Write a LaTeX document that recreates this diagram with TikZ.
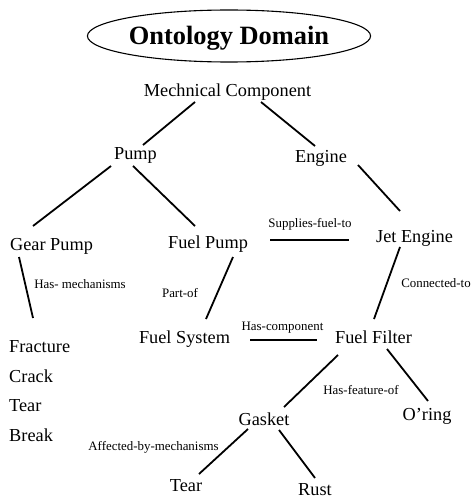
\documentclass[tikz,border=0pt]{standalone}
\usepackage{fontspec}
\setmainfont{Liberation Serif}
\usetikzlibrary{calc,shapes.geometric}
\begin{document}
\begin{tikzpicture}[x=1pt,y=-1pt,
  concept/.style={anchor=base,inner sep=0pt,font=\fontsize{18.3}{22}\selectfont},
  relation/.style={anchor=base,inner sep=0pt,font=\fontsize{12.9}{15}\selectfont},
  link/.style={line width=1.8pt}]
\useasboundingbox (0,0) rectangle (474,500);

% title
\node[ellipse,draw,line width=1.1pt,minimum width=259pt,minimum height=52pt,inner sep=0pt,
      text height=18pt,text depth=0pt,font=\fontsize{26.4}{30}\selectfont\bfseries]
      (title) at (229,36) {Ontology Domain};

% concepts
\node[concept] (mc)     at (227.5,96)  {Mechnical Component};
\node[concept] (pump)   at (135.5,159.5) {Pump};
\node[concept] (engine) at (321,162)   {Engine};
\node[concept] (gear)   at (51.5,250)  {Gear Pump};
\node[concept] (fpump)  at (208,248)   {Fuel Pump};
\node[concept] (jet)    at (414.5,242) {Jet Engine};
\node[concept] (fsys)   at (184.5,343) {Fuel System};
\node[concept] (filter) at (373.5,343) {Fuel Filter};
\node[concept,anchor=base west] (fracture) at (9,352) {Fracture};
\node[concept,anchor=base west] (crack)    at (9,382) {Crack};
\node[concept,anchor=base west] (tear)     at (9,411) {Tear};
\node[concept,anchor=base west] (break)    at (9,441) {Break};
\node[concept] (oring)  at (427,420)   {O’ring};
\node[concept] (gasket) at (264,425)   {Gasket};
\node[concept] (gtear)  at (186,491)   {Tear};
\node[concept] (rust)   at (315,495.5) {Rust};

% relation labels
\node[relation] (supplies) at (310,227.5)   {Supplies-fuel-to};
\node[relation] (hasmech)  at (80,288.5)    {Has- mechanisms};
\node[relation] (partof)   at (180,297.5)   {Part-of};
\node[relation] (connto)   at (436,287.5)   {Connected-to};
\node[relation] (hascomp)  at (282.5,330.5) {Has-component};
\node[relation] (hasfeat)  at (361,394.5)   {Has-feature-of};
\node[relation] (affected) at (153.5,450.5) {Affected-by-mechanisms};

% connectors
\draw[link] ($(mc.base)+(-32.5,6)$)     -- ($(pump.base)+(7.5,-14.5)$);
\draw[link] ($(mc.base)+(33.5,6)$)      -- ($(engine.base)+(-6,-16)$);
\draw[link] ($(pump.base)+(-24.5,6.5)$) -- ($(gear.base)+(-18.5,-24)$);
\draw[link] ($(pump.base)+(-2.5,6.5)$)  -- ($(fpump.base)+(-13,-22)$);
\draw[link] ($(engine.base)+(37,3)$)    -- ($(jet.base)+(-14.5,-31)$);
\draw[link] ($(fpump.base)+(62,-8)$)    -- ($(jet.base)+(-65.5,-2)$);
\draw[link] ($(gear.base)+(-32.5,7)$)   -- ($(fracture.base west)+(24,-34)$);
\draw[link] ($(fpump.base)+(25,9)$)     -- ($(fsys.base)+(21.5,-24)$);
\draw[link] ($(jet.base)+(-14.5,5)$)    -- ($(filter.base)+(0.5,-24)$);
\draw[link] ($(fsys.base)+(65.5,-3)$)   -- ($(filter.base)+(-56.5,-3)$);
\draw[link] ($(filter.base)+(-35.5,12)$) -- ($(gasket.base)+(20,-18)$);
\draw[link] ($(filter.base)+(13.5,6)$)  -- ($(oring.base)+(1,-19)$);
\draw[link] ($(gasket.base)+(-16,4)$)   -- ($(gtear.base)+(13,-17)$);
\draw[link] ($(gasket.base)+(15,5)$)    -- ($(rust.base)+(0,-17.5)$);
\end{tikzpicture}
\end{document}
